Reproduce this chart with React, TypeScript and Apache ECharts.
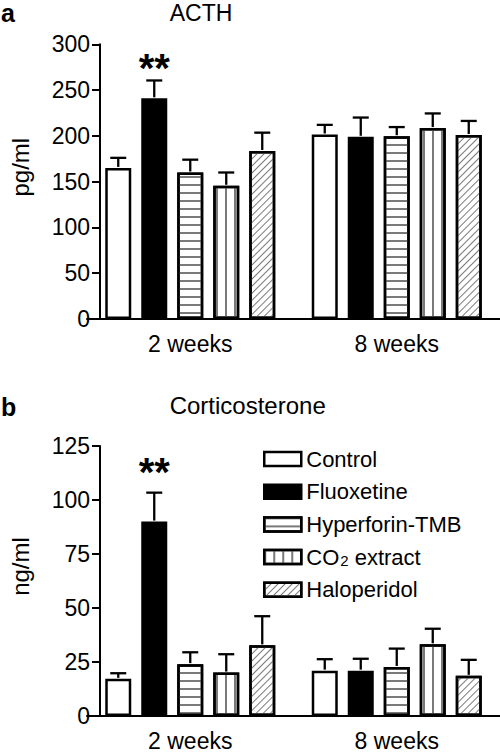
import React, { useEffect, useRef } from 'react';
import * as echarts from 'echarts';

// ---------- data ----------
const GROUPS = ['2 weeks', '8 weeks'];
const TREATMENTS = ['Control', 'Fluoxetine', 'Hyperforin-TMB', 'CO2 extract', 'Haloperidol'];

// ACTH (pg/ml): mean per group [2 weeks, 8 weeks] and SEM
const ACTH_CONTROL = [165, 201.5];
const ACTH_FLUOXETINE = [241, 199];
const ACTH_HYPERFORIN = [160, 199.6];
const ACTH_CO2 = [145.5, 208.5];
const ACTH_HALOPERIDOL = [183.5, 201];
const ACTH_CONTROL_ERR = [11, 10.5];
const ACTH_FLUOXETINE_ERR = [19.5, 21];
const ACTH_HYPERFORIN_ERR = [14, 10];
const ACTH_CO2_ERR = [14.5, 16];
const ACTH_HALOPERIDOL_ERR = [20, 15.3];
const ACTH_SIG = [['', ''], ['**', ''], ['', ''], ['', ''], ['', '']];
const ACTH_SIG_LEVEL = 278;

// Corticosterone (ng/ml)
const CORT_CONTROL = [17.2, 21];
const CORT_FLUOXETINE = [90, 21];
const CORT_HYPERFORIN = [24, 22.7];
const CORT_CO2 = [20.1, 33.2];
const CORT_HALOPERIDOL = [32.7, 18.6];
const CORT_CONTROL_ERR = [2.6, 5.3];
const CORT_FLUOXETINE_ERR = [13.4, 5.5];
const CORT_HYPERFORIN_ERR = [5.5, 8.5];
const CORT_CO2_ERR = [8.5, 7.2];
const CORT_HALOPERIDOL_ERR = [13.5, 7.4];
const CORT_SIG = [['', ''], ['**', ''], ['', ''], ['', ''], ['', '']];
const CORT_SIG_LEVEL = 115;

const ACTH_TICKS = { min: 0, max: 300, interval: 50 };
const CORT_TICKS = { min: 0, max: 125, interval: 25 };

// ---------- styles ----------
const FONT = '"Liberation Sans", Arial, Helvetica, sans-serif';
const BAR_W = 26;
const BAR_GAP = 10 / 26;
const PITCH = BAR_W * (1 + BAR_GAP);

const GREY = '#7a7a7a';
const STYLES: any[] = [
  { color: '#ffffff' },
  { color: '#000000' },
  {
    color: '#ffffff',
    decal: { symbol: 'rect', symbolSize: 1, dashArrayX: [1, 0], dashArrayY: [1.4, 5.3], color: GREY },
  },
  {
    color: '#ffffff',
    decal: { symbol: 'rect', symbolSize: 1, dashArrayX: [1.4, 6.6], dashArrayY: [1, 0], color: GREY },
  },
  {
    color: '#ffffff',
    decal: {
      symbol: 'rect',
      symbolSize: 1,
      dashArrayX: [1, 0],
      dashArrayY: [1, 4],
      rotation: -Math.PI / 4,
      color: GREY,
    },
  },
];

function buildPanel(
  gridIndex: number,
  means: number[][],
  errs: number[][],
  sigs: string[][],
  sigLevel: number,
) {
  const bars = TREATMENTS.map((name, i) => ({
    type: 'bar',
    name,
    xAxisIndex: gridIndex,
    yAxisIndex: gridIndex,
    data: means[i],
    barWidth: BAR_W,
    barGap: `${BAR_GAP * 100}%`,
    itemStyle: { ...STYLES[i], borderColor: '#000', borderWidth: 2.5 },
    emphasis: { disabled: true },
    z: 2,
  }));
  const errData: number[][] = [];
  const sigText: string[] = [];
  TREATMENTS.forEach((_, i) => {
    GROUPS.forEach((__, g) => {
      errData.push([g, means[i][g], errs[i][g], i]);
      sigText.push(sigs[i][g]);
    });
  });
  const errSeries = {
    type: 'custom',
    xAxisIndex: gridIndex,
    yAxisIndex: gridIndex,
    data: errData,
    z: 3,
    silent: true,
    renderItem: (params: any, api: any) => {
      const g = api.value(0);
      const m = api.value(1);
      const e = api.value(2);
      const t = api.value(3);
      const base = api.coord([g, m]);
      const top = api.coord([g, m + e]);
      const x = base[0] + (t - 2) * PITCH;
      const children: any[] = [
        {
          type: 'line',
          shape: { x1: x, y1: base[1] - 1, x2: x, y2: top[1] },
          style: { stroke: '#000', lineWidth: 2.3 },
        },
        {
          type: 'line',
          shape: { x1: x - 8, y1: top[1], x2: x + 8, y2: top[1] },
          style: { stroke: '#000', lineWidth: 2.3 },
        },
      ];
      const s = sigText[params.dataIndex];
      if (s) {
        const p = api.coord([g, sigLevel]);
        children.push({
          type: 'text',
          x,
          y: p[1] + 4,
          style: {
            text: s,
            align: 'center',
            verticalAlign: 'middle',
            fontSize: 40,
            fontWeight: 'bold',
            fontFamily: FONT,
            fill: '#000',
          },
        });
      }
      return { type: 'group', children };
    },
  };
  return [...bars, errSeries];
}

export default function App() {
  const ref = useRef<HTMLDivElement>(null);

  useEffect(() => {
    if (!ref.current) return;
    const chart = echarts.init(ref.current, undefined, { renderer: 'svg' });

    const axisLine = { show: true, lineStyle: { color: '#000', width: 2 } };
    const xAxisBase = {
      type: 'category',
      data: GROUPS,
      axisLine,
      axisTick: { show: false },
      axisLabel: { color: '#000', fontSize: 23, fontFamily: FONT, margin: 13 },
      splitLine: { show: false },
    };
    const yAxisBase = {
      type: 'value',
      offset: -13,
      axisLine,
      axisTick: { show: true, length: 8, lineStyle: { color: '#000', width: 2 } },
      axisLabel: { color: '#000', fontSize: 23, fontFamily: FONT, margin: 10 },
      splitLine: { show: false },
      nameLocation: 'middle',
      nameGap: 68,
      nameTextStyle: { color: '#000', fontSize: 24, fontFamily: FONT, padding: [0, 0, 0, 29] },
    };

    const option: any = {
      animation: false,
      backgroundColor: '#fff',
      textStyle: { fontFamily: FONT },
      grid: [
        { left: 75, right: -10, top: 44.3, bottom: 433 },
        { left: 75, right: -10, top: 446, bottom: 32.7 },
      ],
      xAxis: [
        { ...xAxisBase, gridIndex: 0 },
        { ...xAxisBase, gridIndex: 1 },
      ],
      yAxis: [
        { ...yAxisBase, gridIndex: 0, name: 'pg/ml', ...ACTH_TICKS },
        { ...yAxisBase, gridIndex: 1, name: 'ng/ml', ...CORT_TICKS },
      ],
      legend: {
        orient: 'vertical',
        left: 263,
        top: 448,
        padding: 0,
        icon: 'rect',
        itemWidth: 37,
        itemHeight: 14,
        itemGap: 10.7,
        data: TREATMENTS,
        selectedMode: false,
        itemStyle: { borderColor: '#000', borderWidth: 2.5 },
        textStyle: {
          color: '#000',
          fontSize: 22,
          fontFamily: FONT,
          lineHeight: 22,
          rich: {
            sub: { fontSize: 15, fontFamily: FONT, color: '#000', lineHeight: 9, verticalAlign: 'bottom', padding: [0, 0, 0, 1] },
            n: { fontSize: 22, fontFamily: FONT, color: '#000', lineHeight: 22 },
          },
        },
        formatter: (name: string) =>
          name === 'CO2 extract' ? '{n|CO}{sub|2}{n| extract}' : name,
      },
      graphic: [
        { type: 'text', left: 1, top: 0, style: { text: 'a', fontSize: 25, fontWeight: 'bold', fontFamily: FONT, fill: '#000' } },
        { type: 'text', x: 201, y: 13, style: { text: 'ACTH', fontSize: 23, fontFamily: FONT, fill: '#000', align: 'center', verticalAlign: 'middle' } },
        { type: 'text', left: 1, top: 394, style: { text: 'b', fontSize: 25, fontWeight: 'bold', fontFamily: FONT, fill: '#000' } },
        { type: 'text', x: 247.7, y: 405, style: { text: 'Corticosterone', fontSize: 24, fontFamily: FONT, fill: '#000', align: 'center', verticalAlign: 'middle' } },
      ],
      series: [
        ...buildPanel(
          0,
          [ACTH_CONTROL, ACTH_FLUOXETINE, ACTH_HYPERFORIN, ACTH_CO2, ACTH_HALOPERIDOL],
          [ACTH_CONTROL_ERR, ACTH_FLUOXETINE_ERR, ACTH_HYPERFORIN_ERR, ACTH_CO2_ERR, ACTH_HALOPERIDOL_ERR],
          ACTH_SIG,
          ACTH_SIG_LEVEL,
        ),
        ...buildPanel(
          1,
          [CORT_CONTROL, CORT_FLUOXETINE, CORT_HYPERFORIN, CORT_CO2, CORT_HALOPERIDOL],
          [CORT_CONTROL_ERR, CORT_FLUOXETINE_ERR, CORT_HYPERFORIN_ERR, CORT_CO2_ERR, CORT_HALOPERIDOL_ERR],
          CORT_SIG,
          CORT_SIG_LEVEL,
        ),
      ],
    };

    chart.setOption(option);
    return () => chart.dispose();
  }, []);

  return (
    <div
      ref={ref}
      style={{ position: 'fixed', left: 0, top: 0, width: 500, height: 752, background: '#fff' }}
    />
  );
}
